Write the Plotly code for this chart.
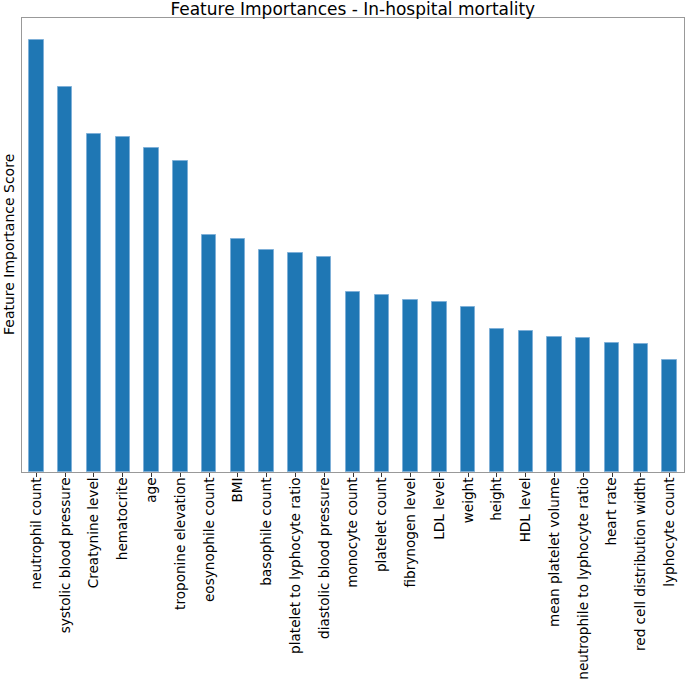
import plotly.graph_objects as go

features = ["neutrophil count", "systolic blood pressure", "Creatynine level", "hematocrite", "age",
            "troponine elevation", "eosynophile count", "BMI", "basophile count",
            "platelet to lyphocyte ratio", "diastolic blood pressure", "monocyte count",
            "platelet count", "fibrynogen level", "LDL level", "weight", "height", "HDL level",
            "mean platelet volume", "neutrophile to lyphocyte ratio", "heart rate",
            "red cell distribution width", "lyphocyte count"]
importance = [0.0432, 0.0385, 0.0338, 0.0335, 0.0324, 0.0311, 0.0237, 0.0233, 0.0222,
              0.0219, 0.0215, 0.0180, 0.0177, 0.0172, 0.0170, 0.0165, 0.0143, 0.0141,
              0.0135, 0.0134, 0.0129, 0.0128, 0.0112]

fig = go.Figure(go.Bar(
    x=features, y=importance, width=0.5,
    marker=dict(color="#1f77b4", line=dict(color="#7fb0d8", width=1)),
))

font = "DejaVu Sans, sans-serif"
fig.update_layout(
    width=685, height=679,
    margin=dict(l=22, r=1, t=18, b=207),
    plot_bgcolor="white", paper_bgcolor="white",
    showlegend=False,
    font=dict(family=font, size=14, color="black"),
    title=dict(text="Feature Importances - In-hospital mortality", x=0.515, xanchor="center",
               y=0.987, yanchor="middle", font=dict(size=17, family=font)),
    bargap=0,
)
fig.update_xaxes(range=[-0.5, 22.5], tickangle=-90, ticks="outside", ticklen=4, tickcolor="#333",
                 showline=True, linecolor="#999", linewidth=1, mirror=True, showgrid=False,
                 automargin=False, ticklabelstandoff=-5, tickfont=dict(size=13.6, family=font))
fig.update_yaxes(range=[0, 0.0454], showticklabels=False, ticks="", showline=True,
                 linecolor="#999", linewidth=1, mirror=True, showgrid=False, zeroline=False,
                 automargin=False)
fig.add_annotation(text="Feature Importance Score", xref="paper", yref="paper", x=0, y=0.5,
                   xanchor="right", yanchor="middle", xshift=-3, textangle=-90, showarrow=False,
                   font=dict(size=14, family=font))
fig.write_html("out.html", config={"displayModeBar": False},
               post_script="document.body.style.margin='0';document.body.style.overflow='hidden';")
